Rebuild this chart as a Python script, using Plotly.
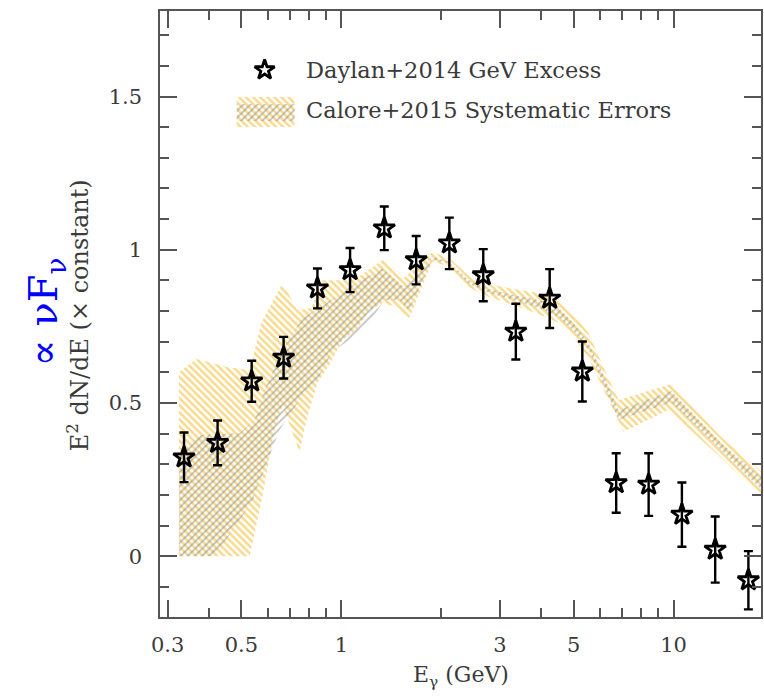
import plotly.graph_objects as go

# ---------------- data ----------------
E_daylan = [0.336, 0.424, 0.537, 0.670, 0.847, 1.062, 1.346, 1.679, 2.113,
            2.673, 3.350, 4.236, 5.311, 6.716, 8.41, 10.59, 13.34, 16.79]
flux_daylan = [0.323, 0.370, 0.571, 0.648, 0.874, 0.934, 1.070, 0.966, 1.021,
               0.917, 0.733, 0.841, 0.603, 0.239, 0.234, 0.136, 0.022, -0.078]
err_daylan = [0.081, 0.073, 0.067, 0.068, 0.065, 0.072, 0.071, 0.079, 0.084,
              0.085, 0.091, 0.096, 0.098, 0.097, 0.102, 0.105, 0.108, 0.095]

# Calore+2015 systematic band: outer (yellow) envelope
outer_up_E = [0.3243, 0.3672, 0.4550, 0.5297, 0.5754, 0.6653, 0.7379, 0.8128, 0.8710,
              1.0351, 1.1482, 1.3459, 1.5453, 1.8750, 2.1086, 2.4210, 2.7797, 3.3036,
              3.9271, 4.5100, 5.0023, 5.5487, 6.1531, 6.8266, 9.843, 13.90, 18.6]
outer_up_v = [0.601, 0.644, 0.617, 0.608, 0.764, 0.891, 0.803, 0.810, 0.901,
              0.901, 0.918, 0.970, 0.908, 0.993, 0.973, 0.915, 0.888, 0.872,
              0.859, 0.836, 0.790, 0.728, 0.615, 0.510, 0.562, 0.389, 0.272]
outer_lo_E = [0.3243, 0.5297, 0.5754, 0.6295, 0.6653, 0.7482, 0.7852, 0.8472, 0.9204,
              1.0069, 1.1092, 1.2134, 1.3274, 1.4622, 1.5996, 1.8750, 2.1086, 2.4210,
              2.7797, 3.3036, 3.9271, 4.5100, 5.0023, 5.5487, 6.2387, 7.0665, 9.641,
              13.62, 18.6]
outer_lo_v = [0.0, 0.0, 0.184, 0.412, 0.493, 0.340, 0.445, 0.566, 0.624,
              0.706, 0.738, 0.803, 0.826, 0.813, 0.777, 0.960, 0.947, 0.878,
              0.846, 0.820, 0.790, 0.761, 0.715, 0.647, 0.533, 0.406, 0.477,
              0.330, 0.190]

# inner (grey) envelope
inner_up_E = [0.3243, 0.3750, 0.4943, 0.5483, 0.5875, 0.6653, 0.7638, 0.9016, 1.0568,
              1.3274, 1.5453, 1.8750, 2.1086, 2.4210, 2.7797, 3.3036, 3.9271, 4.5100,
              5.0023, 5.5487, 6.1531, 6.8266, 9.843, 13.90, 18.6]
inner_up_v = [0.330, 0.396, 0.402, 0.445, 0.543, 0.674, 0.777, 0.826, 0.878,
              0.940, 0.878, 0.979, 0.960, 0.901, 0.872, 0.852, 0.836, 0.810,
              0.761, 0.696, 0.591, 0.477, 0.539, 0.370, 0.252]
inner_lo_E = [0.3243, 0.4159, 0.4943, 0.5408, 0.5875, 0.6516, 0.7482, 0.8414, 0.9397,
              1.0568, 1.2134, 1.3459, 1.4928, 1.5996, 1.8750, 2.1086, 2.4210, 2.7797,
              3.3036, 3.9271, 4.5100, 5.0023, 5.5487, 6.1531, 6.8266, 9.843, 13.90, 18.6]
inner_lo_v = [0.0, 0.0, 0.118, 0.184, 0.282, 0.412, 0.510, 0.569, 0.667,
              0.706, 0.761, 0.836, 0.836, 0.803, 0.966, 0.957, 0.888, 0.859,
              0.836, 0.810, 0.781, 0.735, 0.673, 0.559, 0.445, 0.503, 0.347, 0.213]

x_tickvals = [0.3, 0.5, 1, 3, 5, 10]
x_ticktext = ["0.3", "0.5", "1", "3", "5", "10"]
x_minor = [0.4, 0.6, 0.7, 0.8, 0.9, 2, 4, 6, 7, 8, 9]
y_tickvals = [0, 0.5, 1, 1.5]
y_ticktext = ["0", "0.5", "1", "1.5"]
y_minor = [-0.1, 0.1, 0.2, 0.3, 0.4, 0.6, 0.7, 0.8, 0.9, 1.1, 1.2, 1.3, 1.4, 1.6, 1.7]

label_daylan = "Daylan+2014 GeV Excess"
label_calore = "Calore+2015 Systematic Errors"

# ---------------- styling ----------------
FONT = "DejaVu Serif"
TXT = "#3a3a3a"
AX = "#555555"
YEL = "#efb51c"
GRY = "#888888"

YPAT = dict(shape="\\", fgcolor=YEL, bgcolor="rgba(0,0,0,0)", size=5, solidity=0.5)
GPAT = dict(shape="/", fgcolor=GRY, bgcolor="rgba(0,0,0,0)", size=5, solidity=0.36)

fig = go.Figure()

fig.add_trace(go.Scatter(
    x=outer_up_E + outer_lo_E[::-1], y=outer_up_v + outer_lo_v[::-1],
    mode="lines", fill="toself", line=dict(width=0, color="rgba(0,0,0,0)"),
    fillcolor="rgba(0,0,0,0)", fillpattern=YPAT,
    hoverinfo="skip", showlegend=False))
fig.add_trace(go.Scatter(
    x=inner_up_E + inner_lo_E[::-1], y=inner_up_v + inner_lo_v[::-1],
    mode="lines", fill="toself", line=dict(width=0, color="rgba(0,0,0,0)"),
    fillcolor="rgba(0,0,0,0)", fillpattern=GPAT,
    hoverinfo="skip", showlegend=False))

fig.add_trace(go.Scatter(
    x=E_daylan, y=flux_daylan, mode="markers",
    marker=dict(symbol="star-open", size=16, color="black", line=dict(width=2.8, color="black")),
    error_y=dict(type="data", array=err_daylan, visible=True, color="black",
                 thickness=2.4, width=4.5),
    showlegend=False))

# legend (drawn on a pixel-unit overlay axis)
fig.add_trace(go.Scatter(
    x=[237, 295, 295, 237], y=[97, 97, 127, 127], xaxis="x2", yaxis="y2",
    mode="lines", fill="toself", line=dict(width=0, color="rgba(0,0,0,0)"),
    fillcolor="rgba(0,0,0,0)", fillpattern=YPAT,
    hoverinfo="skip", showlegend=False))
fig.add_trace(go.Scatter(
    x=[237, 295, 295, 237], y=[104, 104, 121, 121], xaxis="x2", yaxis="y2",
    mode="lines", fill="toself", line=dict(width=0, color="rgba(0,0,0,0)"),
    fillcolor="rgba(0,0,0,0)", fillpattern=GPAT,
    hoverinfo="skip", showlegend=False))
fig.add_trace(go.Scatter(
    x=[265], y=[70], xaxis="x2", yaxis="y2", mode="markers",
    marker=dict(symbol="star-open", size=15, color="black", line=dict(width=2.8, color="black")),
    hoverinfo="skip", showlegend=False))

fig.add_annotation(x=304, y=70, xref="x2", yref="y2", text=label_daylan, showarrow=False,
                   xanchor="left", yanchor="middle", font=dict(family=FONT, size=22.5, color=TXT))
fig.add_annotation(x=304, y=110, xref="x2", yref="y2", text=label_calore, showarrow=False,
                   xanchor="left", yanchor="middle", font=dict(family=FONT, size=22.5, color=TXT))

# axis titles
W = 603.0
H = 606.0
fig.add_annotation(x=(78 - 160) / W, y=(617 - 315) / H, xref="paper", yref="paper",
                   text="E<sup>2</sup> dN/dE (× constant)", textangle=-90, showarrow=False,
                   xanchor="center", yanchor="middle", font=dict(family=FONT, size=24, color=TXT))
fig.add_annotation(x=(46 - 160) / W, y=(617 - 312) / H, xref="paper", yref="paper",
                   text="∝ νF<sub>ν</sub>", textangle=-90, showarrow=False,
                   xanchor="center", yanchor="middle", font=dict(family=FONT, size=40, color="#0000ff"))
fig.add_annotation(x=(462 - 160) / W, y=(617 - 676) / H, xref="paper", yref="paper",
                   text="E<sub>γ</sub> (GeV)", showarrow=False,
                   xanchor="center", yanchor="middle", font=dict(family=FONT, size=22, color=TXT))

axis_common = dict(showgrid=False, zeroline=False, showline=True, linecolor=AX, linewidth=1.5,
                   mirror="ticks", ticks="inside", ticklen=17, tickwidth=1.5, tickcolor=AX,
                   tickfont=dict(family=FONT, size=21, color=TXT))

fig.update_layout(
    width=764, height=696,
    margin=dict(l=160, r=1, t=11, b=79),
    paper_bgcolor="white", plot_bgcolor="white",
    xaxis=dict(type="log", range=[-0.546, 1.263], tickmode="array",
               tickvals=x_tickvals, ticktext=x_ticktext, ticklabelstandoff=8,
               minor=dict(tickmode="array", tickvals=x_minor, ticks="inside", ticklen=9,
                          tickwidth=1.5, tickcolor=AX, showgrid=False),
               **axis_common),
    yaxis=dict(range=[-0.198, 1.779], tickmode="array",
               tickvals=y_tickvals, ticktext=y_ticktext, ticklabelstandoff=12,
               minor=dict(tickmode="array", tickvals=y_minor, ticks="inside", ticklen=9,
                          tickwidth=1.5, tickcolor=AX, showgrid=False),
               **axis_common),
    xaxis2=dict(overlaying="x", range=[160, 763], visible=False, fixedrange=True),
    yaxis2=dict(overlaying="y", range=[617, 11], visible=False, fixedrange=True),
)

fig.write_html("out.html")
